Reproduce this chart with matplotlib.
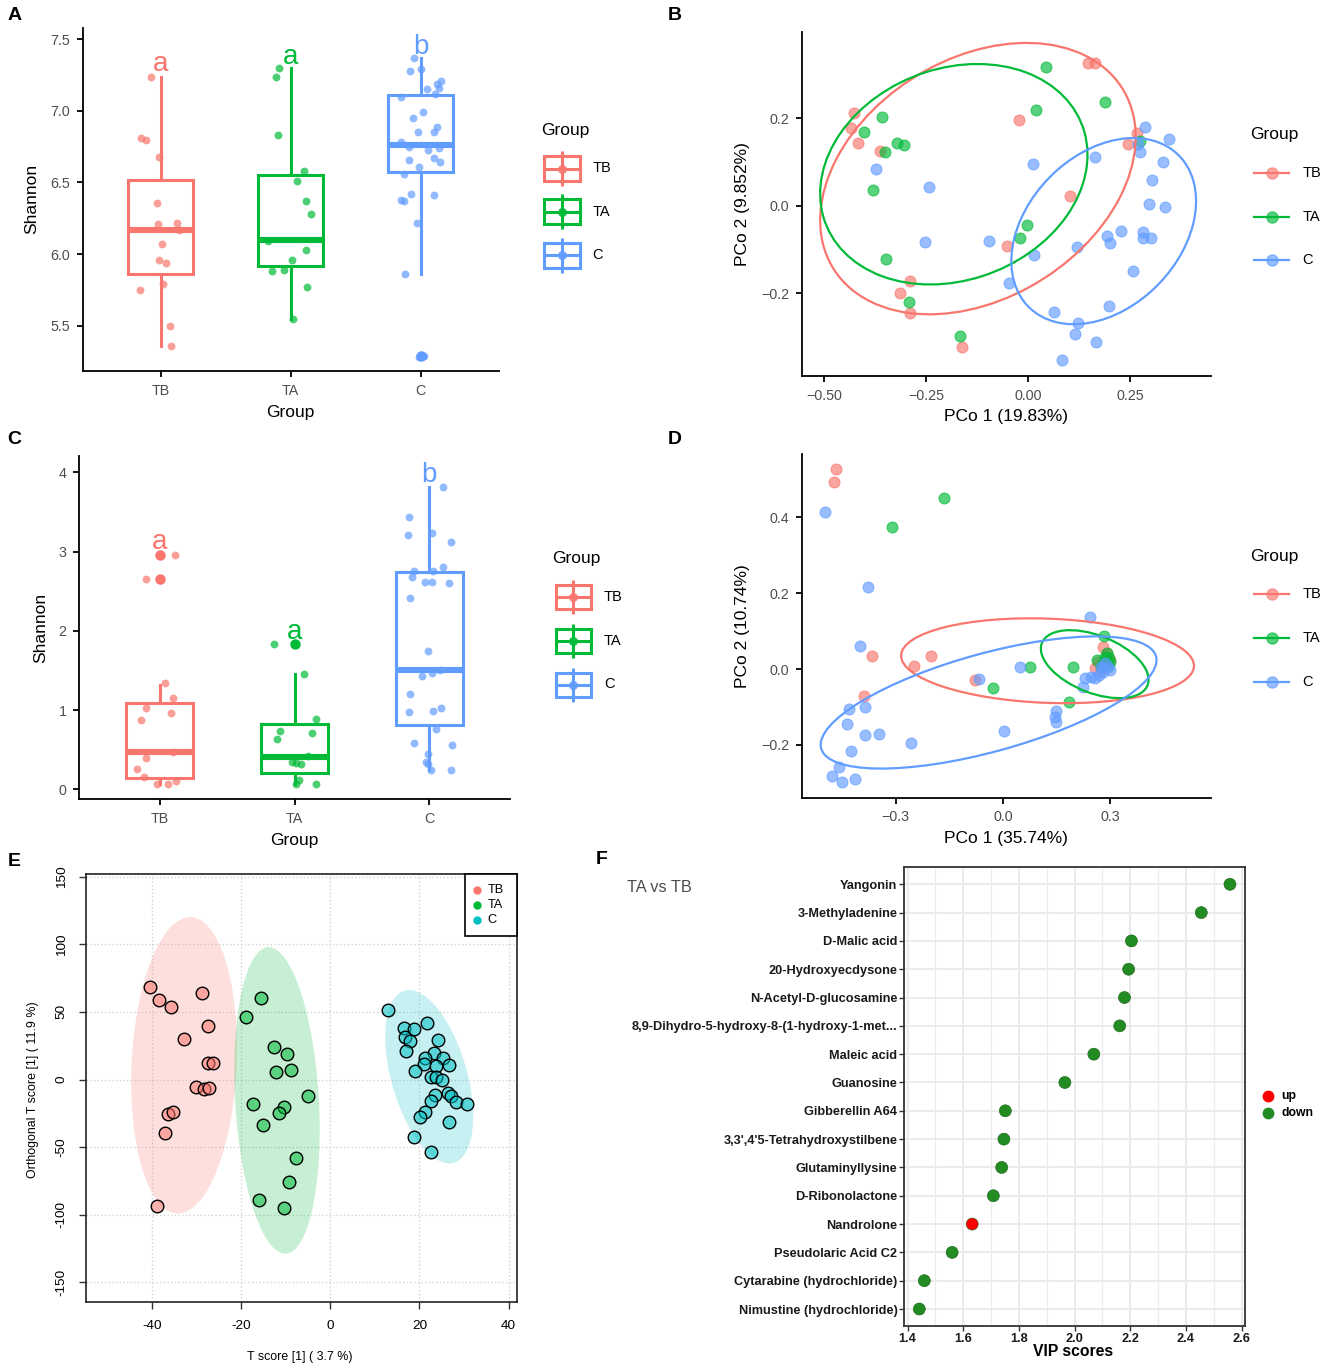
import numpy as np
import matplotlib
matplotlib.use("Agg")
import matplotlib.pyplot as plt
from matplotlib.colors import to_rgba
from matplotlib.patches import Ellipse, Rectangle

plt.rcParams["font.family"] = ["Liberation Sans", "DejaVu Sans"]
plt.rcParams["axes.unicode_minus"] = True

W, H = 1325, 1368
GROUPS = ["TB", "TA", "C"]
GG_COLORS = ["#F8766D", "#00BA38", "#619CFF"]
E_COLORS = ["#F8766D", "#00BA38", "#00BFC4"]
GREY30 = "#4D4D4D"

# ---- panel A: Shannon (box + jitter) ----
A_TB_X = [0.93, 0.85, 0.89, 0.99, 0.97, 0.98, 1.13, 1.14, 1.01, 0.99, 1.04, 0.84, 1.02, 1.07, 1.08]
A_TB_Y = [7.24, 6.81, 6.80, 6.68, 6.36, 6.21, 6.22, 6.17, 6.07, 5.96, 5.94, 5.75, 5.79, 5.50, 5.36]
A_TA_X = [1.91, 1.89, 1.90, 2.10, 2.05, 2.12, 2.16, 1.83, 2.12, 2.01, 1.86, 1.95, 2.13, 2.02]
A_TA_Y = [7.30, 7.24, 6.83, 6.58, 6.51, 6.37, 6.28, 6.09, 6.03, 5.96, 5.88, 5.89, 5.77, 5.55]
A_C_X = [2.95, 2.92, 3.00, 3.16, 3.13, 3.05, 3.14, 3.11, 2.85, 3.02, 2.94, 3.13, 2.98, 3.10, 2.85, 2.91, 3.06,
         3.14, 3.10, 3.15, 2.91, 2.99, 2.87, 2.93, 3.10, 2.85, 2.87, 2.97, 2.88, 3.00, 3.02, 3.03, 2.99]
A_C_Y = [7.37, 7.28, 7.29, 7.21, 7.19, 7.15, 7.16, 7.12, 7.10, 6.99, 6.95, 6.89, 6.85, 6.85, 6.78, 6.75, 6.73,
         6.74, 6.67, 6.64, 6.66, 6.61, 6.56, 6.42, 6.41, 6.38, 6.37, 6.22, 5.86, 5.29, 5.29, 5.29, 5.28]
A_Q1 = [5.86, 5.92, 6.57]
A_MED = [6.17, 6.10, 6.76]
A_Q3 = [6.52, 6.55, 7.11]
A_LO = [5.36, 5.55, 5.86]
A_HI = [7.24, 7.30, 7.37]
A_FLIERS = [[], [], [5.29]]
A_LETTERS = ["a", "a", "b"]
A_LETTER_Y = [7.28, 7.33, 7.40]

# ---- panel C: Shannon (box + jitter) ----
C_TB_X = [0.90, 1.00, 1.11, 1.00, 1.04, 1.10, 0.90, 1.08, 0.86, 1.10, 0.90, 0.83, 0.88, 0.98, 1.06, 1.12]
C_TB_Y = [2.65, 2.96, 2.96, 2.64, 1.34, 1.15, 1.03, 0.96, 0.88, 0.475, 0.39, 0.26, 0.16, 0.067, 0.067, 0.11]
C_TA_X = [1.85, 2.00, 2.07, 2.16, 1.89, 2.13, 1.87, 2.10, 1.98, 2.05, 2.01, 2.03, 2.01, 2.16]
C_TA_Y = [1.83, 1.83, 1.45, 0.89, 0.74, 0.71, 0.64, 0.42, 0.35, 0.32, 0.33, 0.12, 0.07, 0.07]
C_C_X = [3.10, 2.85, 3.02, 2.84, 3.16, 3.10, 2.89, 3.03, 2.87, 2.97, 3.02, 3.15, 2.86, 2.99, 2.95, 3.02, 3.08,
         2.86, 2.85, 3.03, 3.09, 3.05, 2.89, 3.17, 2.99, 2.98, 2.99, 3.01, 3.16]
C_C_Y = [3.82, 3.44, 3.23, 3.21, 3.12, 2.81, 2.75, 2.75, 2.68, 2.62, 2.61, 2.60, 2.41, 1.74, 1.43, 1.47, 1.50,
         1.20, 0.98, 0.99, 1.03, 0.76, 0.59, 0.56, 0.45, 0.34, 0.32, 0.24, 0.24]
C_Q1 = [0.147, 0.20, 0.81]
C_MED = [0.475, 0.41, 1.50]
C_Q3 = [1.094, 0.82, 2.74]
C_LO = [0.07, 0.07, 0.245]
C_HI = [1.317, 1.45, 3.81]
C_FLIERS = [[2.96, 2.65], [1.83], []]
C_LETTERS = ["a", "a", "b"]
C_LETTER_Y = [3.03, 1.90, 3.88]

# ---- panel B: PCoA ----
B_TB_X = [-0.427, -0.435, -0.416, -0.364, -0.022, 0.146, 0.163, 0.266, 0.244, 0.103, -0.051, -0.289, -0.315, -0.289, -0.163]
B_TB_Y = [0.211, 0.177, 0.143, 0.126, 0.195, 0.327, 0.327, 0.167, 0.141, 0.022, -0.093, -0.173, -0.200, -0.246, -0.322]
B_TA_X = [0.043, 0.187, 0.020, -0.357, -0.401, -0.322, -0.304, -0.351, -0.380, 0.273, -0.004, -0.019, -0.349, -0.291, -0.168]
B_TA_Y = [0.316, 0.238, 0.219, 0.202, 0.168, 0.144, 0.138, 0.122, 0.035, 0.148, -0.045, -0.074, -0.122, -0.219, -0.298]
B_C_X = [0.286, 0.346, 0.268, 0.273, 0.163, 0.012, -0.372, 0.330, 0.304, -0.242, 0.296, 0.334, 0.228, 0.192, 0.200,
         0.281, 0.281, 0.302, -0.252, -0.095, 0.119, 0.014, -0.046, 0.257, 0.064, 0.197, 0.122, 0.114, 0.165, 0.082]
B_C_Y = [0.179, 0.153, 0.141, 0.122, 0.112, 0.095, 0.083, 0.099, 0.059, 0.042, 0.003, -0.002, -0.057, -0.070, -0.086,
         -0.061, -0.073, -0.073, -0.082, -0.080, -0.095, -0.112, -0.176, -0.150, -0.242, -0.229, -0.269, -0.293, -0.312, -0.352]
# ellipse: centre x, centre y, semi-axis a, semi-axis b, angle (deg)
B_ELL_CX = [-0.123, -0.182, 0.185]
B_ELL_CY = [0.062, 0.072, -0.058]
B_ELL_A = [0.410, 0.334, 0.253]
B_ELL_B = [0.278, 0.243, 0.180]
B_ELL_ANG = [27.1, 16.8, 39.6]

# ---- panel D: PCoA ----
D_TB_X = [-0.468, -0.474, -0.367, -0.201, -0.250, -0.079, -0.389, 0.281, 0.290, 0.287, 0.257, 0.299, 0.275, 0.267, 0.293]
D_TB_Y = [0.527, 0.494, 0.035, 0.035, 0.008, -0.029, -0.071, 0.059, 0.043, 0.015, 0.002, 0.024, -0.002, 0.020, 0.033]
D_TA_X = [-0.164, -0.311, 0.282, 0.076, 0.197, -0.027, 0.186, 0.263, 0.290, 0.301, 0.281, 0.293, 0.296, 0.275, 0.287]
D_TA_Y = [0.450, 0.375, 0.086, 0.006, 0.006, -0.051, -0.086, 0.024, 0.042, 0.020, 0.015, 0.011, 0.028, 0.005, 0.033]
D_C_X = [-0.497, -0.378, -0.401, 0.243, 0.048, -0.067, 0.225, 0.231, 0.248, 0.257, 0.269, 0.281, 0.293, 0.287, 0.275,
         0.299, 0.281, 0.150, 0.147, 0.150, 0.003, -0.256, -0.385, -0.432, -0.435, -0.385, -0.348, -0.426, -0.459,
         -0.479, -0.450, -0.413]
D_C_Y = [0.415, 0.216, 0.061, 0.138, 0.005, -0.027, -0.046, -0.024, -0.020, -0.024, -0.016, -0.007, 0.006, 0.015, 0.006,
         -0.002, 0.005, -0.110, -0.127, -0.139, -0.162, -0.194, -0.099, -0.105, -0.145, -0.174, -0.171, -0.216, -0.259,
         -0.283, -0.297, -0.291]
D_ELL_CX = [0.125, 0.257, -0.040]
D_ELL_CY = [0.022, 0.013, -0.088]
D_ELL_A = [0.410, 0.158, 0.484]
D_ELL_B = [0.111, 0.076, 0.130]
D_ELL_ANG = [-2.0, -20.0, 14.4]

# ---- panel E: OPLS-DA scores ----
E_TB_X = [-40.5, -38.4, -35.7, -28.7, -27.4, -32.9, -27.4, -26.4, -30.1, -28.3, -27.2, -36.3, -35.4, -37.1, -38.9]
E_TB_Y = [68.7, 58.8, 53.4, 63.7, 39.8, 30.0, 12.0, 12.0, -5.8, -7.3, -6.5, -25.5, -24.3, -39.8, -93.3]
E_TA_X = [-15.6, -19.0, -12.7, -9.7, -12.1, -8.8, -4.9, -17.3, -10.4, -11.4, -15.0, -7.8, -9.3, -16.0, -10.4]
E_TA_Y = [60.0, 46.0, 24.3, 18.6, 5.3, 7.0, -11.9, -18.4, -20.1, -25.0, -33.9, -58.3, -76.0, -89.1, -94.8]
E_C_X = [13.0, 16.6, 18.9, 21.7, 16.8, 17.8, 17.1, 24.2, 23.3, 21.3, 25.4, 21.0, 26.7, 23.7, 19.1, 22.7, 23.7,
         25.1, 26.5, 27.0, 23.5, 28.2, 30.6, 22.7, 21.3, 20.2, 26.7, 18.7, 22.7]
E_C_Y = [51.4, 37.8, 37.4, 42.0, 31.7, 28.7, 21.1, 29.2, 19.9, 15.7, 15.7, 11.5, 10.7, 10.0, 6.5, 2.1, 2.1,
         -0.4, -10.2, -12.2, -11.5, -16.4, -18.1, -15.6, -23.8, -27.5, -31.7, -42.3, -53.4]
E_ELL_CX = [-32.8, -11.95, 22.2]
E_ELL_CY = [10.5, -15.5, 2.1]
E_ELL_A = [109.7, 113.4, 64.3]
E_ELL_B = [11.8, 9.4, 8.75]
E_ELL_ANG = [89.28, -89.06, -85.9]

# ---- panel F: VIP scores ----
F_NAMES = ["Yangonin", "3-Methyladenine", "D-Malic acid", "20-Hydroxyecdysone", "N-Acetyl-D-glucosamine",
           "8,9-Dihydro-5-hydroxy-8-(1-hydroxy-1-met...", "Maleic acid", "Guanosine", "Gibberellin A64",
           "3,3',4'5-Tetrahydroxystilbene", "Glutaminyllysine", "D-Ribonolactone", "Nandrolone",
           "Pseudolaric Acid C2", "Cytarabine (hydrochloride)", "Nimustine (hydrochloride)"]
F_VIP = [2.558, 2.455, 2.204, 2.194, 2.179, 2.162, 2.069, 1.965, 1.751, 1.746, 1.738, 1.708, 1.632, 1.560, 1.460, 1.442]
F_DIR = ["down"] * 12 + ["up"] + ["down"] * 3
F_DIR_COLORS = {"up": "#FF0000", "down": "#228B22"}

fig = plt.figure(figsize=(W / 100, H / 100), dpi=100)


def add_ax(left, top, right, bottom):
    return fig.add_axes([left / W, 1 - bottom / H, (right - left) / W, (bottom - top) / H])


def classic(ax):
    for s in ("top", "right"):
        ax.spines[s].set_visible(False)
    for s in ("left", "bottom"):
        ax.spines[s].set_linewidth(1.3)
    ax.tick_params(length=4.5, width=1.3, pad=4.5, labelsize=10.3, labelcolor=GREY30)


def box_panel(ax, xs, ys, q1, med, q3, lo, hi, fliers, letters, letter_y):
    for i, c in enumerate(GG_COLORS):
        st = {"q1": q1[i], "med": med[i], "q3": q3[i], "whislo": lo[i], "whishi": hi[i], "fliers": fliers[i]}
        ax.bxp([st], positions=[i + 1], widths=0.5, showcaps=False, patch_artist=True, manage_ticks=False,
               boxprops=dict(facecolor="white", edgecolor=c, linewidth=2.2),
               whiskerprops=dict(color=c, linewidth=2.2),
               medianprops=dict(color=c, linewidth=4.4, solid_capstyle="butt"),
               flierprops=dict(marker="o", markerfacecolor=c, markeredgecolor=c, markersize=6.5))
        ax.scatter(xs[i], ys[i], s=32, color=c, alpha=0.7, linewidths=0, zorder=4)
        ax.text(i + 1, letter_y[i], letters[i], color=c, fontsize=20, ha="center", va="baseline")
    ax.set_xlim(0.4, 3.6)
    ax.set_xticks([1, 2, 3], GROUPS)
    classic(ax)


def pcoa_panel(ax, xs, ys, cx, cy, ea, eb, eang):
    for i, c in enumerate(GG_COLORS):
        ax.scatter(xs[i], ys[i], s=62, facecolor=c, edgecolor=c, alpha=0.65, linewidths=0.8, zorder=3)
        ax.add_patch(Ellipse((cx[i], cy[i]), 2 * ea[i], 2 * eb[i], angle=eang[i], fill=False,
                             edgecolor=c, linewidth=1.6, zorder=4))
    classic(ax)


# A
axA = add_ax(82.5, 28, 498.5, 371.5)
box_panel(axA, [A_TB_X, A_TA_X, A_C_X], [A_TB_Y, A_TA_Y, A_C_Y], A_Q1, A_MED, A_Q3, A_LO, A_HI,
          A_FLIERS, A_LETTERS, A_LETTER_Y)
axA.set_ylim(5.18, 7.579)
axA.set_yticks([5.5, 6.0, 6.5, 7.0, 7.5], ["5.5", "6.0", "6.5", "7.0", "7.5"])

# C
axC = add_ax(79, 456, 510, 799.3)
box_panel(axC, [C_TB_X, C_TA_X, C_C_X], [C_TB_Y, C_TA_Y, C_C_Y], C_Q1, C_MED, C_Q3, C_LO, C_HI,
          C_FLIERS, C_LETTERS, C_LETTER_Y)
axC.set_ylim(-0.126, 4.206)
axC.set_yticks([0, 1, 2, 3, 4])

# B
axB = add_ax(801.5, 32, 1210.7, 376)
pcoa_panel(axB, [B_TB_X, B_TA_X, B_C_X], [B_TB_Y, B_TA_Y, B_C_Y], B_ELL_CX, B_ELL_CY, B_ELL_A, B_ELL_B, B_ELL_ANG)
axB.set_xlim(-0.555, 0.447)
axB.set_ylim(-0.389, 0.397)
axB.set_xticks([-0.5, -0.25, 0, 0.25], ["\u22120.50", "\u22120.25", "0.00", "0.25"])
axB.set_yticks([-0.2, 0, 0.2], ["\u22120.2", "0.0", "0.2"])

# D
axD = add_ax(801.5, 454, 1210.7, 797.7)
pcoa_panel(axD, [D_TB_X, D_TA_X, D_C_X], [D_TB_Y, D_TA_Y, D_C_Y], D_ELL_CX, D_ELL_CY, D_ELL_A, D_ELL_B, D_ELL_ANG)
axD.set_xlim(-0.5636, 0.5816)
axD.set_ylim(-0.339, 0.567)
axD.set_xticks([-0.3, 0, 0.3], ["\u22120.3", "0.0", "0.3"])
axD.set_yticks([-0.2, 0, 0.2, 0.4], ["\u22120.2", "0.0", "0.2", "0.4"])

# E
axE = add_ax(85.6, 874.3, 517, 1302.3)
for i, c in enumerate(E_COLORS):
    axE.add_patch(Ellipse((E_ELL_CX[i], E_ELL_CY[i]), 2 * E_ELL_A[i], 2 * E_ELL_B[i], angle=E_ELL_ANG[i],
                          facecolor=c, edgecolor="none", alpha=0.22, zorder=1))
for i, (xs, ys) in enumerate([(E_TB_X, E_TB_Y), (E_TA_X, E_TA_Y), (E_C_X, E_C_Y)]):
    axE.scatter(xs, ys, s=82, facecolor=to_rgba(E_COLORS[i], 0.55), edgecolor="black", linewidths=1.0, zorder=3)
axE.set_xlim(-54.9, 41.9)
axE.set_ylim(-164.8, 151.8)
e_xt = [-40, -20, 0, 20, 40]
e_yt = [-150, -100, -50, 0, 50, 100, 150]
axE.set_xticks(e_xt, [str(v) for v in e_xt])
axE.set_yticks(e_yt, [str(v) for v in e_yt])
for lbl in axE.get_yticklabels():
    lbl.set_rotation(90)
    lbl.set_va("center")
axE.grid(True, color="#D3D3D3", linestyle=":", linewidth=1.0)
axE.set_axisbelow(True)
for s in axE.spines.values():
    s.set_linewidth(1.2)
    s.set_color("#222222")
axE.tick_params(length=5, width=1.0, pad=8, labelsize=9.7, color="#333333")

# F
axF = add_ax(904.4, 867.3, 1245, 1326)
f_y = np.arange(len(F_NAMES))[::-1] + 1
axF.scatter(F_VIP, f_y, s=75, c=[F_DIR_COLORS[d] for d in F_DIR], edgecolors="#1a5e1a", linewidths=0.4, zorder=3)
axF.set_xlim(1.3885, 2.612)
axF.set_ylim(0.4, len(F_NAMES) + 0.6)
axF.set_yticks(f_y, F_NAMES)
axF.set_xticks([1.4, 1.6, 1.8, 2.0, 2.2, 2.4, 2.6], ["1.4", "1.6", "1.8", "2.0", "2.2", "2.4", "2.6"])
axF.set_xticks(np.arange(1.5, 2.6, 0.2), minor=True)
axF.grid(True, which="major", color="#EBEBEB", linewidth=1.4)
axF.grid(True, which="minor", axis="x", color="#EBEBEB", linewidth=0.8)
axF.set_axisbelow(True)
for s in axF.spines.values():
    s.set_color("#333333")
    s.set_linewidth(1.3)
axF.tick_params(which="major", length=3.5, width=1.0, pad=1.5, color="#333333", labelsize=9.2)
axF.tick_params(which="minor", length=0)
for lbl in axF.get_yticklabels() + axF.get_xticklabels():
    lbl.set_fontweight("bold")
    lbl.set_color("#1A1A1A")

# overlay in pixel coordinates for titles, labels and legends
ov = fig.add_axes([0, 0, 1, 1])
ov.set_xlim(0, W)
ov.set_ylim(H, 0)
ov.axis("off")
ov.patch.set_alpha(0)


def ptext(x, y, s, **kw):
    ov.text(x, y, s, **kw)


for lab, x, y in [("A", 14.5, 16), ("B", 675, 16), ("C", 14.5, 440), ("D", 675, 440), ("E", 14, 861), ("F", 602, 860)]:
    ptext(x, y, lab, fontsize=14, fontweight="bold", ha="center", va="center")

ptext(32, 199, "Shannon", fontsize=12.5, rotation=90, ha="center", va="center")
ptext(290.7, 412, "Group", fontsize=12.5, ha="center", va="center")
ptext(41, 628, "Shannon", fontsize=12.5, rotation=90, ha="center", va="center")
ptext(294.8, 840, "Group", fontsize=12.5, ha="center", va="center")
ptext(743, 204, "PCo 2 (9.852%)", fontsize=12.5, rotation=90, ha="center", va="center")
ptext(1006, 416, "PCo 1 (19.83%)", fontsize=12.5, ha="center", va="center")
ptext(743, 626, "PCo 2 (10.74%)", fontsize=12.5, rotation=90, ha="center", va="center")
ptext(1006, 839, "PCo 1 (35.74%)", fontsize=12.5, ha="center", va="center")
ptext(300, 1357, "T score [1] ( 3.7 %)", fontsize=8.9, ha="center", va="center")
ptext(33, 1090, "Orthogonal T score [1] ( 11.9 %)", fontsize=8.9, rotation=90, ha="center", va="center")
ptext(1072.7, 1352, "VIP scores", fontsize=11.3, fontweight="bold", ha="center", va="center")
ptext(627.3, 888, "TA vs TB", fontsize=11.8, color=GREY30, ha="left", va="center")


def box_key(x0, x1, yc, h, c):
    xm = (x0 + x1) / 2
    ov.plot([xm, xm], [yc - h / 2 - 5, yc + h / 2 + 5], color=c, lw=2.2, solid_capstyle="butt")
    ov.add_patch(Rectangle((x0, yc - h / 2), x1 - x0, h, facecolor="white", edgecolor=c, lw=2.2))
    ov.plot([x0, x1], [yc, yc], color=c, lw=2.2)
    ov.plot([xm], [yc], "o", color=c, ms=5.5, alpha=0.85)


def box_legend(x_title, y_title, x0, x1, ys, h, x_lab):
    ptext(x_title, y_title, "Group", fontsize=12.5, ha="left", va="center")
    for i, c in enumerate(GG_COLORS):
        box_key(x0, x1, ys[i], h, c)
        ptext(x_lab, ys[i], GROUPS[i], fontsize=10.5, ha="left", va="center")


def line_legend(x_title, y_title, ys):
    ptext(x_title, y_title, "Group", fontsize=12.5, ha="left", va="center")
    for i, c in enumerate(GG_COLORS):
        ov.plot([1254, 1289], [ys[i], ys[i]], color=c, lw=1.6)
        ov.plot([1271.7], [ys[i]], "o", ms=8, mfc=c, mec=c, alpha=0.65)
        ptext(1302.7, ys[i], GROUPS[i], fontsize=10.5, ha="left", va="center")


box_legend(541, 131, 544, 580, [168.5, 211.5, 255], 25, 592.7)
box_legend(552, 558, 555.5, 590.5, [597.3, 641, 684.5], 24, 604)
line_legend(1250, 135, [172.7, 216.7, 260])
line_legend(1250, 557, [594.3, 638.3, 682.3])

# E legend box
ov.add_patch(Rectangle((464.8, 874.3), 517 - 464.8, 935.7 - 874.3, facecolor="white", edgecolor="black", lw=1.2))
for i, (g, c) in enumerate(zip(GROUPS, E_COLORS)):
    yy = 890 + 15 * i
    ov.plot([476.7], [yy], "o", ms=5, mfc=c, mec=c)
    ptext(487.5, yy, g, fontsize=9.2, ha="left", va="center")

# F legend
for i, d in enumerate(["up", "down"]):
    yy = 1095.7 + 17.6 * i
    ov.plot([1267.7], [yy], "o", ms=7.5, mfc=F_DIR_COLORS[d], mec=F_DIR_COLORS[d])
    ptext(1281.7, yy, d, fontsize=8.8, fontweight="bold", ha="left", va="center")

fig.savefig("out.png", dpi=100)
